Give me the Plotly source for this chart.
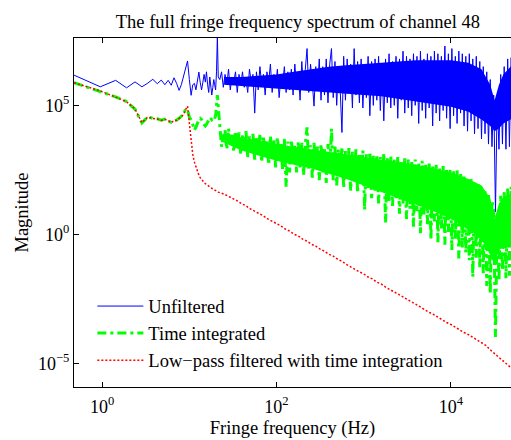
import numpy as np
import plotly.graph_objects as go

# ---- data (log10 of frequency in Hz, log10 of magnitude) ----
# low-frequency FFT bins (k = 1..45, bin width ~0.477 Hz)
LOG_FREQ_LOW = [-0.321, -0.020, 0.156, 0.281, 0.378, 0.457, 0.524, 0.582, 0.633, 0.679,
                0.720, 0.758, 0.793, 0.825, 0.855, 0.883, 0.909, 0.934, 0.957, 0.980,
                1.001, 1.021, 1.040, 1.059, 1.076, 1.093, 1.110, 1.125, 1.141, 1.156,
                1.170, 1.184, 1.197, 1.210, 1.223, 1.235, 1.247, 1.258, 1.270, 1.281,
                1.291, 1.302, 1.312, 1.322, 1.332]

# higher-frequency sample points
LOG_FREQ_HIGH = [1.35, 1.37, 1.39, 1.41, 1.43, 1.45, 1.47, 1.49, 1.51, 1.53,
                 1.55, 1.57, 1.59, 1.61, 1.63, 1.65, 1.67, 1.69, 1.71, 1.73,
                 1.75, 1.77, 1.79, 1.81, 1.83, 1.85, 1.87, 1.89, 1.91, 1.93,
                 1.95, 1.97, 1.99, 2.01, 2.03, 2.05, 2.07, 2.09, 2.11, 2.13,
                 2.15, 2.17, 2.19, 2.21, 2.23, 2.25, 2.27, 2.29, 2.31, 2.33,
                 2.35, 2.37, 2.39, 2.41, 2.43, 2.45, 2.47, 2.49, 2.51, 2.53,
                 2.55, 2.57, 2.59, 2.61, 2.63, 2.65, 2.67, 2.69, 2.71, 2.73,
                 2.75, 2.77, 2.79, 2.81, 2.83, 2.85, 2.87, 2.89, 2.91, 2.93,
                 2.95, 2.97, 2.99, 3.01, 3.03, 3.05, 3.07, 3.09, 3.11, 3.13,
                 3.15, 3.17, 3.19, 3.21, 3.23, 3.25, 3.27, 3.29, 3.31, 3.33,
                 3.35, 3.37, 3.39, 3.41, 3.43, 3.45, 3.47, 3.49, 3.51, 3.53,
                 3.55, 3.57, 3.59, 3.61, 3.63, 3.65, 3.67, 3.69, 3.71, 3.73,
                 3.75, 3.77, 3.79, 3.81, 3.83, 3.85, 3.87, 3.89, 3.91, 3.93,
                 3.95, 3.97, 3.99, 4.01, 4.03, 4.05, 4.07, 4.09, 4.11, 4.13,
                 4.15, 4.17, 4.19, 4.21, 4.23, 4.25, 4.27, 4.29, 4.31, 4.33,
                 4.35, 4.37, 4.39, 4.41, 4.43, 4.45, 4.47, 4.49, 4.51, 4.53,
                 4.55, 4.57, 4.59, 4.61, 4.63, 4.65, 4.67, 4.69, 4.71]

UNFILTERED_LOW = [6.17, 5.72, 5.97, 5.68, 5.91, 5.72, 5.86, 6.01, 5.84, 5.98,
                  5.80, 5.97, 5.78, 6.07, 5.85, 5.58, 5.80, 6.10, 6.45, 6.72,
                  6.00, 5.39, 5.80, 5.85, 5.60, 5.95, 6.29, 5.90, 5.60, 5.90,
                  6.20, 5.90, 6.30, 5.80, 5.50, 6.10, 5.80, 5.40, 5.70, 6.00,
                  5.80, 5.60, 6.30, 7.70, 6.10]
UNFILTERED_HIGH = [6.0, 6.3, 5.7, 6.2, 5.8, 6.4, 5.6, 6.1, 5.9, 6.3,
                   5.5, 6.2, 5.8, 6.3, 5.7, 6.0, 5.5, 6.4, 5.9, 6.2,
                   4.7, 6.3, 5.6, 6.5, 5.8, 6.2, 5.4, 6.3, 5.9, 6.6,
                   5.5, 6.2, 5.7, 6.4, 5.3, 6.1, 5.8, 6.5, 5.5, 6.3,
                   5.6, 6.4, 5.4, 6.6, 5.7, 6.3, 5.2, 6.7, 5.6, 6.4,
                   7.2, 5.5, 6.6, 5.9, 4.97, 6.5, 5.6, 6.8, 5.2, 6.5,
                   5.4, 6.8, 5.1, 6.6, 7.2, 5.3, 6.7, 5.0, 6.5, 5.6,
                   3.95, 6.9, 5.2, 6.8, 5.5, 6.6, 4.9, 7.2, 5.4, 6.7,
                   5.1, 6.8, 4.9, 6.6, 5.3, 6.9, 4.6, 6.7, 5.0, 6.8,
                   5.2, 6.9, 4.8, 6.6, 4.4, 6.8, 5.1, 7.0, 4.9, 6.7,
                   5.0, 6.9, 4.5, 6.8, 5.2, 7.1, 4.7, 6.9, 4.9, 6.8,
                   4.6, 7.0, 5.0, 6.9, 4.3, 7.1, 4.8, 6.8, 4.5, 7.0,
                   4.9, 6.9, 4.2, 7.1, 4.7, 7.0, 4.4, 6.9, 4.8, 7.3,
                   4.5, 7.0, 4.1, 7.2, 4.6, 6.9, 4.3, 7.1, 4.7, 7.0,
                   4.2, 6.9, 4.0, 7.0, 4.4, 6.8, 3.9, 6.9, 4.1, 6.7,
                   3.7, 6.5, 3.9, 6.3, 3.5, 6.0, 3.4, 5.4, 0.88, 5.3,
                   3.3, 6.2, 3.5, 6.5, 3.3, 6.8, 3.4, 6.85, 3.5]

TIME_INT_LOW = [5.88, 5.55, 5.33, 5.15, 4.85, 4.32, 4.55, 4.50, 4.48, 4.43,
                4.47, 4.40, 4.34, 4.40, 4.43, 4.50, 4.56, 4.65, 4.85, 4.82,
                4.55, 4.43, 4.25, 4.04, 4.15, 4.30, 4.45, 4.50, 4.45, 4.30,
                4.24, 4.20, 4.26, 4.35, 4.43, 4.40, 4.50, 4.45, 4.50, 4.56,
                4.50, 4.60, 5.00, 5.40, 4.95]
TIME_INT_HIGH = [4.2, 3.4, 3.8, 4.05, 3.3, 4.1, 3.5, 3.9, 3.2, 4.0,
                 3.4, 3.95, 3.1, 3.85, 3.3, 4.0, 3.0, 3.8, 3.2, 3.9,
                 2.9, 3.8, 3.1, 3.9, 2.8, 3.75, 3.2, 3.6, 2.7, 3.8,
                 3.0, 3.7, 2.6, 3.75, 3.1, 3.5, 2.5, 3.7, 1.85, 3.6,
                 2.4, 3.65, 2.8, 3.5, 2.4, 3.6, 2.6, 3.55, 2.3, 3.5,
                 4.15, 2.5, 3.45, 2.2, 3.55, 2.6, 3.4, 2.1, 3.5, 2.4,
                 3.35, 2.0, 3.5, 2.4, 4.1, 2.1, 3.4, 1.9, 3.3, 2.3,
                 3.4, 1.8, 3.25, 2.2, 3.35, 1.7, 3.2, 2.1, 3.3, 1.6,
                 3.15, 2.0, 3.25, 0.95, 3.1, 1.8, 3.2, 1.4, 3.05, 1.7,
                 3.1, 1.2, 3.0, 1.6, 3.15, 0.45, 2.95, 1.3, 3.05, 1.1,
                 2.9, 1.4, 3.0, 0.8, 2.85, 1.2, 2.95, 0.6, 2.9, 1.0,
                 2.8, 0.3, 2.9, 0.9, 2.75, 0.05, 2.85, 0.7, 2.7, 0.4,
                 2.75, -0.2, 2.65, 0.5, 2.7, -0.3, 2.6, 0.2, 2.65, -0.4,
                 2.55, 0.1, 2.5, -0.6, 2.45, -0.2, 2.5, -0.93, 2.35, -0.5,
                 2.3, -0.7, 2.2, -1.0, 2.15, -1.64, 2.0, -0.9, 1.95, -1.3,
                 1.85, -1.5, 1.7, -2.0, 1.6, -2.3, 1.3, 0.9, -3.97, 0.8,
                 -1.8, 1.5, -1.4, 1.7, -1.7, 1.8, -1.6, 1.85, -1.9]

LOWPASS_LOW = [5.88, 5.56, 5.32, 5.14, 4.86, 4.33, 4.55, 4.49, 4.47, 4.42,
               4.46, 4.41, 4.33, 4.41, 4.42, 4.49, 4.55, 4.64, 4.84, 4.97,
               4.30, 3.55, 3.10, 2.80, 2.60, 2.42, 2.30, 2.20, 2.12, 2.06,
               2.01, 1.97, 1.93, 1.90, 1.87, 1.84, 1.81, 1.79, 1.77, 1.74,
               1.72, 1.70, 1.68, 1.66, 1.64]
LOG_FREQ_LOWPASS_HIGH = [1.40, 1.45, 1.50, 1.55, 1.60, 1.65, 1.70, 1.75, 1.80, 1.85,
                         1.90, 1.95, 2.00, 2.05, 2.10, 2.15, 2.20, 2.25, 2.30, 2.35,
                         2.40, 2.45, 2.50, 2.55, 2.60, 2.65, 2.70, 2.75, 2.80, 2.85,
                         2.90, 2.95, 3.00, 3.05, 3.10, 3.15, 3.20, 3.25, 3.30, 3.35,
                         3.40, 3.45, 3.50, 3.55, 3.60, 3.65, 3.70, 3.75, 3.80, 3.85,
                         3.90, 3.95, 4.00, 4.05, 4.10, 4.15, 4.20, 4.25, 4.30, 4.35,
                         4.40, 4.45, 4.50, 4.55, 4.60, 4.65, 4.70]
LOWPASS_HIGH = [1.56, 1.48, 1.39, 1.30, 1.19, 1.11, 0.99, 0.91, 0.80, 0.72,
                0.60, 0.52, 0.41, 0.33, 0.21, 0.13, 0.01, -0.06, -0.18, -0.26,
                -0.38, -0.45, -0.57, -0.65, -0.77, -0.84, -0.96, -1.04, -1.16, -1.24,
                -1.35, -1.45, -1.53, -1.65, -1.72, -1.85, -1.92, -2.04, -2.12, -2.23,
                -2.32, -2.43, -2.51, -2.62, -2.71, -2.82, -2.90, -3.02, -3.10, -3.21,
                -3.30, -3.41, -3.49, -3.60, -3.69, -3.80, -3.88, -3.99, -4.08, -4.19,
                -4.30, -4.47, -4.62, -4.77, -4.92, -5.06, -5.20]

# densely packed core of the two noisy spectra (where the traces overlap into a solid band)
LOG_FREQ_CORE = [1.40, 1.60, 1.80, 2.00, 2.20, 2.40, 2.60, 2.80, 3.00, 3.20,
                 3.40, 3.60, 3.80, 4.00, 4.20, 4.35, 4.45, 4.50, 4.55, 4.60, 4.71]
UNFILTERED_CORE_TOP = [6.10, 6.10, 6.15, 6.20, 6.30, 6.40, 6.50, 6.55, 6.60, 6.65,
                       6.70, 6.75, 6.75, 6.75, 6.65, 6.40, 5.80, 5.20, 5.80, 6.20, 6.60]
UNFILTERED_CORE_BOTTOM = [5.80, 5.75, 5.70, 5.65, 5.60, 5.55, 5.50, 5.45, 5.40, 5.35,
                          5.25, 5.15, 5.05, 4.95, 4.75, 4.45, 4.20, 4.00, 4.10, 4.30, 4.50]
TIME_INT_CORE_TOP = [3.95, 3.75, 3.65, 3.50, 3.40, 3.30, 3.20, 3.10, 3.00, 2.90,
                     2.80, 2.70, 2.55, 2.40, 2.15, 1.90, 1.40, 0.60, 1.20, 1.45, 1.60]
TIME_INT_CORE_BOTTOM = [3.55, 3.25, 3.05, 2.85, 2.70, 2.55, 2.35, 2.15, 1.90, 1.65,
                        1.40, 1.15, 0.90, 0.60, 0.20, -0.20, -0.80, -1.20, -0.60, -0.50, -0.50]

NAMES = ["Unfiltered", "Time integrated", "Low\u2212pass filtered with time integration"]
X_TICKS = [1, 100, 10000]
X_TICK_TEXT = ["10<sup>0</sup>", "10<sup>2</sup>", "10<sup>4</sup>"]
Y_TICKS = [1e-5, 1, 1e5]
Y_TICK_TEXT = ["10<sup>\u22125</sup>", "10<sup>0</sup>", "10<sup>5</sup>"]

FONT = "Liberation Serif"
BLUE, GREEN, RED = "#0000ff", "#00ff00", "#ff0000"


def band(logx, top, bottom):
    xs = np.power(10.0, list(logx) + list(logx)[::-1])
    ys = np.power(10.0, list(top) + list(bottom)[::-1])
    return xs, ys


fx = np.power(10.0, LOG_FREQ_LOW + LOG_FREQ_HIGH)
fx_lp = np.power(10.0, LOG_FREQ_LOW + LOG_FREQ_LOWPASS_HIGH)

fig = go.Figure()
bx, by = band(LOG_FREQ_CORE, UNFILTERED_CORE_TOP, UNFILTERED_CORE_BOTTOM)
fig.add_trace(go.Scatter(x=bx, y=by, mode="lines", fill="toself", fillcolor=BLUE,
                         line=dict(width=0, color=BLUE), showlegend=False, hoverinfo="skip"))
fig.add_trace(go.Scatter(x=fx, y=np.power(10.0, UNFILTERED_LOW + UNFILTERED_HIGH),
                         mode="lines", name=NAMES[0],
                         line=dict(color=BLUE, width=1)))
gx, gy = band(LOG_FREQ_CORE, TIME_INT_CORE_TOP, TIME_INT_CORE_BOTTOM)
fig.add_trace(go.Scatter(x=gx, y=gy, mode="lines", fill="toself", fillcolor=GREEN,
                         line=dict(width=0, color=GREEN), showlegend=False, hoverinfo="skip"))
fig.add_trace(go.Scatter(x=fx, y=np.power(10.0, TIME_INT_LOW + TIME_INT_HIGH),
                         mode="lines", name=NAMES[1],
                         line=dict(color=GREEN, width=3, dash="9px,4px,3px,4px")))
fig.add_trace(go.Scatter(x=fx_lp, y=np.power(10.0, LOWPASS_LOW + LOWPASS_HIGH),
                         mode="lines", name=NAMES[2],
                         line=dict(color=RED, width=1.5, dash="2px,2px")))

fig.update_layout(
    width=511, height=440,
    margin=dict(l=74, r=0, t=38, b=53),
    paper_bgcolor="white", plot_bgcolor="white",
    font=dict(family=FONT, size=18, color="black"),
    title=dict(text="The full fringe frequency spectrum of channel 48",
               x=0.583, xanchor="center", y=1 - 22 / 440, yanchor="middle",
               font=dict(family=FONT, size=18.5, color="black")),
    showlegend=True,
    legend=dict(x=0.042, y=0.285, xanchor="left", yanchor="top",
                bgcolor="rgba(0,0,0,0)", borderwidth=0,
                font=dict(family=FONT, size=18.5, color="black"),
                itemwidth=46, tracegroupgap=0),
)
fig.update_xaxes(type="log", range=[-0.3215, 4.688],
                 tickmode="array", tickvals=X_TICKS, ticktext=X_TICK_TEXT,
                 showgrid=False, zeroline=False,
                 showline=True, linecolor="black", linewidth=1, mirror="ticks",
                 ticks="inside", ticklen=5, tickcolor="black", ticklabelstandoff=3,
                 tickfont=dict(family=FONT, size=18, color="black"),
                 title=dict(text="Fringe frequency (Hz)", standoff=5,
                            font=dict(family=FONT, size=18.5, color="black")))
fig.update_yaxes(type="log", range=[-5.91, 7.61],
                 tickmode="array", tickvals=Y_TICKS, ticktext=Y_TICK_TEXT,
                 showgrid=False, zeroline=False,
                 showline=True, linecolor="black", linewidth=1, mirror=False,
                 ticks="inside", ticklen=5, tickcolor="black",
                 tickfont=dict(family=FONT, size=18, color="black"),
                 title=dict(text="Magnitude", standoff=4,
                            font=dict(family=FONT, size=18.5, color="black")))

fig.write_html("out.html")
